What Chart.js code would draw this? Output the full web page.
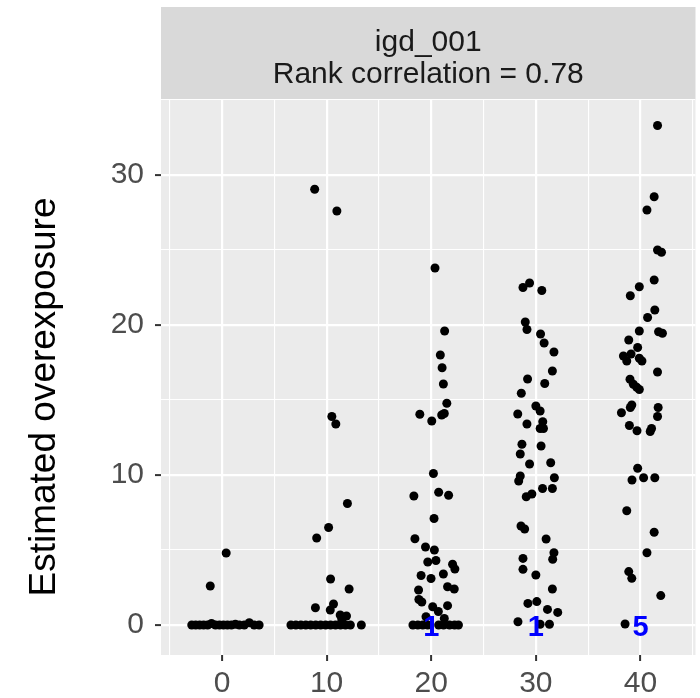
<!DOCTYPE html>
<html>
<head>
<meta charset="utf-8">
<script src="https://cdn.jsdelivr.net/npm/chart.js@4/dist/chart.umd.min.js"></script>
<style>
  html, body { margin: 0; padding: 0; background: #fff; }
  canvas { display: block; }
</style>
</head>
<body>
<canvas id="plot" width="700" height="698"></canvas>
<script>
// jittered [dose, overexposure] pairs, one array per dose group
const group0 = [
  [-2.89, 0], [-2.51, 0], [-2.13, 0], [-1.75, 0], [-1.37, 0], [-1.0, 0.1], [-0.62, 0],
  [-0.24, 0], [0.14, 0], [0.52, 0], [0.9, 0], [1.28, 0.05], [1.66, 0], [2.13, 0],
  [2.61, 0.15], [3.08, 0], [3.55, 0], [-1.12, 2.6], [0.4, 4.8]
];
const group10 = [
  [6.59, 0], [7.06, 0], [7.54, 0], [8.01, 0], [8.48, 0], [8.96, 0], [9.43, 0], [9.91, 0],
  [10.38, 0], [10.85, 0], [11.33, 0], [11.8, 0], [12.27, 0], [13.32, 0],
  [8.93, 1.15], [10.38, 3.07], [12.15, 2.4], [10.66, 1.4], [10.35, 1.0], [11.3, 0.67],
  [11.9, 0.6], [11.45, 0.33], [8.86, 29.05], [10.98, 27.6], [10.5, 13.9], [10.88, 13.4],
  [11.99, 8.1], [10.19, 6.5], [9.05, 5.8]
];
const group20 = [
  [20.36, 23.8], [21.28, 19.6], [20.87, 18.0], [21.04, 17.15], [21.16, 16.07], [21.49, 14.78],
  [21.25, 14.1], [21.0, 14.0], [18.91, 14.05], [20.05, 13.6], [20.21, 10.1], [20.71, 8.85],
  [21.66, 8.65], [18.34, 8.6], [20.27, 7.1], [18.44, 5.75], [19.45, 5.2], [20.3, 5.0],
  [19.67, 4.2], [20.45, 4.3], [22.04, 4.05], [22.26, 3.73], [19.03, 3.3], [19.98, 3.1],
  [21.16, 3.4], [21.56, 2.55], [22.2, 2.4], [18.79, 2.33], [18.82, 1.7], [19.1, 1.53],
  [20.14, 1.22], [20.68, 0.9], [21.56, 1.29], [21.25, 0.44], [19.5, 0.55],
  [18.25, 0], [18.72, 0], [19.19, 0], [19.67, 0], [20.71, 0], [21.18, 0], [21.75, 0],
  [22.23, 0], [22.6, 0]
];
const group30 = [
  [28.77, 22.5], [29.4, 22.8], [30.57, 22.3], [28.99, 20.2], [29.15, 19.7], [30.45, 19.4],
  [30.79, 18.8], [31.73, 18.2], [31.58, 16.93], [29.21, 16.4], [30.85, 16.1], [28.61, 15.45],
  [30.0, 14.6], [30.41, 14.27], [28.27, 14.07], [30.66, 13.55], [29.15, 13.4], [30.41, 13.1],
  [30.73, 13.1], [28.67, 12.05], [30.5, 11.93], [28.51, 11.4], [29.4, 10.73], [31.42, 10.82],
  [28.51, 9.93], [28.36, 9.6], [31.77, 9.82], [30.64, 9.1], [31.58, 9.1], [29.08, 8.55],
  [29.62, 8.73], [28.58, 6.6], [28.93, 6.4], [30.98, 5.73], [31.73, 4.82], [31.61, 4.38],
  [28.77, 4.44], [28.77, 3.71], [30.0, 3.33], [31.58, 2.4], [29.24, 1.44], [30.09, 1.56],
  [31.11, 1.04], [32.09, 0.84], [28.29, 0.22], [30.41, 0.05], [31.3, 0.05]
];
const group40 = [
  [41.63, 33.3], [41.31, 28.55], [40.62, 27.67], [41.63, 25.0], [42.01, 24.85], [41.31, 23.0],
  [39.89, 22.55], [39.03, 21.95], [41.37, 21.0], [40.68, 20.5], [39.89, 19.6], [41.73, 19.55],
  [42.1, 19.45], [38.88, 19.0], [39.73, 18.5], [38.37, 17.93], [39.1, 18.07], [38.69, 17.6],
  [39.89, 17.78], [40.14, 17.6], [41.63, 16.87], [39.0, 16.38], [39.32, 16.05], [39.64, 15.85],
  [39.89, 15.7], [39.17, 14.67], [39.03, 14.5], [38.18, 14.15], [41.69, 14.5], [41.63, 13.9],
  [38.94, 13.3], [39.67, 12.95], [41.06, 13.1], [40.93, 12.9], [39.73, 10.45], [39.19, 9.67],
  [40.3, 9.82], [41.37, 9.82], [38.69, 7.62], [41.31, 6.18], [40.62, 4.82], [38.88, 3.56],
  [39.17, 3.11], [41.94, 1.96], [38.53, 0.07]
];

// blue count labels sitting on the zero line
const countDoses = [20, 30, 40];
const countLabels = ['1', '1', '5'];

const xMajor = [0, 10, 20, 30, 40];
const xMinor = [-5, 5, 15, 25, 35, 45];
const yMajor = [0, 10, 20, 30];
const yMinor = [5, 15, 25, 35];

const stripLines = ['igd_001', 'Rank correlation = 0.78'];
const yTitle = 'Estimated overexposure';

const FONT = '"Liberation Sans", Arial, Helvetica, sans-serif';

function toPoints(arr){
  return arr.map(p => ({x: p[0], y: p[1]}));
}

function gridTicks(major, minor){
  return major.concat(minor).sort((a, b) => a - b).map(v => ({value: v}));
}

const isMajor = (list, v) => list.indexOf(v) !== -1;

// panel background + facet strip + rotated y title
const ggDecor = {
  id: 'ggDecor',
  beforeDraw(chart){
    const {ctx, chartArea: a} = chart;
    ctx.save();
    ctx.fillStyle = '#EBEBEB';
    ctx.fillRect(a.left, a.top, a.right - a.left, a.bottom - a.top);
    ctx.fillStyle = '#D9D9D9';
    ctx.fillRect(a.left, 7, a.right - a.left, a.top - 7);
    ctx.fillStyle = '#1A1A1A';
    ctx.font = '30px ' + FONT;
    ctx.textAlign = 'center';
    ctx.textBaseline = 'alphabetic';
    const cx = (a.left + a.right) / 2;
    ctx.fillText(stripLines[0], cx, 51);
    ctx.fillText(stripLines[1], cx, 83);
    ctx.translate(55, 397);
    ctx.rotate(-Math.PI / 2);
    ctx.fillStyle = '#000';
    ctx.font = '37px ' + FONT;
    ctx.fillText(yTitle, 0, 0);
    ctx.restore();
  },
  afterDatasetsDraw(chart){
    const {ctx, scales} = chart;
    ctx.save();
    ctx.fillStyle = '#0000FF';
    ctx.font = 'bold 29px ' + FONT;
    ctx.textAlign = 'center';
    ctx.textBaseline = 'middle';
    countDoses.forEach((d, i) => {
      ctx.fillText(countLabels[i], scales.x.getPixelForValue(d), scales.y.getPixelForValue(0) + 3);
    });
    ctx.restore();
  }
};

const pointStyle = {
  type: 'scatter',
  backgroundColor: '#000',
  borderWidth: 0,
  pointRadius: 4.5,
  pointHoverRadius: 4.5
};

const ctx = document.getElementById('plot').getContext('2d');
new Chart(ctx, {
  type: 'scatter',
  data: {
    datasets: [group0, group10, group20, group30, group40].map(g => Object.assign({data: toPoints(g)}, pointStyle))
  },
  options: {
    responsive: false,
    animation: false,
    layout: {padding: {top: 100, right: 0, bottom: 0, left: 0}},
    plugins: {legend: {display: false}, tooltip: {enabled: false}},
    scales: {
      x: {
        type: 'linear',
        min: -5.83,
        max: 45.26,
        afterBuildTicks: s => { s.ticks = gridTicks(xMajor, xMinor); },
        afterFit: s => { s.height = 43; },
        border: {display: false},
        grid: {
          color: '#FFFFFF',
          lineWidth: c => isMajor(xMajor, c.tick.value) ? 2.2 : 1.1,
          tickColor: c => isMajor(xMajor, c.tick.value) ? '#333333' : 'rgba(0,0,0,0)',
          tickLength: 6,
          tickWidth: 2
        },
        ticks: {
          autoSkip: false,
          maxRotation: 0,
          padding: 5,
          color: '#4D4D4D',
          font: {family: FONT, size: 30},
          callback: v => isMajor(xMajor, v) ? String(v) : ''
        }
      },
      y: {
        type: 'linear',
        min: -2,
        max: 35,
        afterBuildTicks: s => { s.ticks = gridTicks(yMajor, yMinor); },
        afterFit: s => { s.width = 161; },
        border: {display: false},
        grid: {
          color: '#FFFFFF',
          lineWidth: c => isMajor(yMajor, c.tick.value) ? 2.2 : 1.1,
          tickColor: c => isMajor(yMajor, c.tick.value) ? '#333333' : 'rgba(0,0,0,0)',
          tickLength: 6,
          tickWidth: 2
        },
        ticks: {
          autoSkip: false,
          padding: 11,
          color: '#4D4D4D',
          font: {family: FONT, size: 30},
          callback: v => isMajor(yMajor, v) ? String(v) : ''
        }
      }
    }
  },
  plugins: [ggDecor]
});
</script>
</body>
</html>
